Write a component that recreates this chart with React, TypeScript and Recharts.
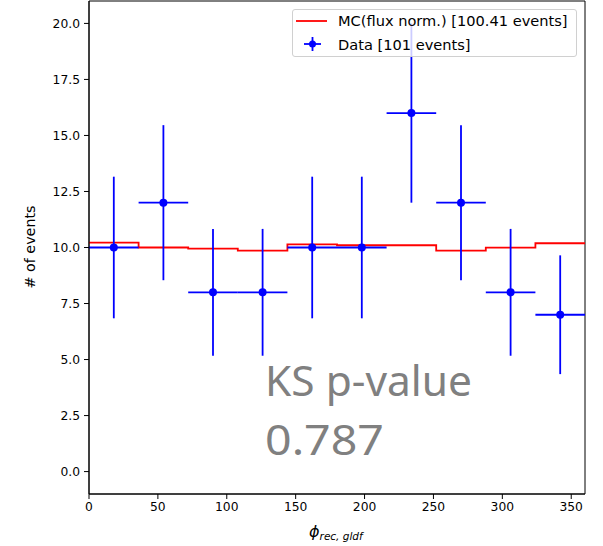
import React from 'react'
import {
  ComposedChart,
  Line,
  Scatter,
  ErrorBar,
  XAxis,
  YAxis,
  ReferenceArea,
  Legend,
  Customized,
} from 'recharts'

// data histogram (bin centres, counts, errors)
const binCenters = [18, 54, 90, 126, 162, 198, 234, 270, 306, 342]
const counts = [10, 12, 8, 8, 10, 10, 16, 12, 8, 7]
const countErr = [3.16, 3.46, 2.83, 2.83, 3.16, 3.16, 4.0, 3.46, 2.83, 2.65]
const binHalfWidth = [18, 18, 18, 18, 18, 18, 18, 18, 18, 18]

// MC (flux norm.) step histogram
const binEdges = [0, 36, 72, 108, 144, 180, 216, 252, 288, 324, 360]
const mcCounts = [10.22, 10.0, 9.95, 9.86, 10.14, 10.1, 10.1, 9.86, 9.99, 10.19]

const xTicks = [0, 50, 100, 150, 200, 250, 300, 350]
const yTicks = [0, 2.5, 5, 7.5, 10, 12.5, 15, 17.5, 20]

const pointData = binCenters.map((x, i) => ({
  x,
  y: counts[i],
  yerr: countErr[i],
  xerr: binHalfWidth[i],
}))

const mcData = binEdges.map((x, i) => ({
  x,
  mc: mcCounts[Math.min(i, mcCounts.length - 1)],
}))

const FONT = '"DejaVu Sans", sans-serif'

const LegendBox = () => (
  <div
    style={{
      width: 283,
      height: 46,
      border: '1px solid #d0d0d0',
      borderRadius: 3,
      background: 'rgba(255,255,255,0.8)',
      fontFamily: FONT,
      fontSize: 14.6,
      color: '#000',
      position: 'relative',
      whiteSpace: 'nowrap',
    }}
  >
    <svg width={40} height={46} style={{ position: 'absolute', left: 0, top: 0 }}>
      <line x1={3} y1={11} x2={34} y2={11} stroke="#ff0000" strokeWidth={1.8} />
      <line x1={11} y1={34} x2={28} y2={34} stroke="#0000ff" strokeWidth={1.8} />
      <line x1={19.5} y1={27} x2={19.5} y2={41} stroke="#0000ff" strokeWidth={1.8} />
      <circle cx={19.5} cy={34} r={3.5} fill="#0000ff" />
    </svg>
    <div style={{ position: 'absolute', left: 45, top: 2, lineHeight: '18px' }}>MC(flux norm.) [100.41 events]</div>
    <div style={{ position: 'absolute', left: 45, top: 26, lineHeight: '18px' }}>Data [101 events]</div>
  </div>
)

const Annotations = () => (
  <g>
    <text x={30} y={247} transform="rotate(-90 30 247)" textAnchor="middle"
      dominantBaseline="central" fontFamily={FONT} fontSize={14.3} fill="#000">
      # of events
    </text>
    <text x={309} y={537} fontFamily={FONT} fontSize={16} fill="#000">
      <tspan fontStyle="italic">ϕ</tspan>
      <tspan fontStyle="italic" fontSize={10.5} dy={3}>rec, gldf</tspan>
    </text>
    <text x={265} y={396} fontFamily='"Noto Sans", sans-serif' fontSize={42} fill="#808080"
      textLength={207} lengthAdjust="spacingAndGlyphs">
      KS p-value
    </text>
    <text x={265} y={455} fontFamily='"Noto Sans", sans-serif' fontSize={42} fill="#808080"
      textLength={119} lengthAdjust="spacingAndGlyphs">
      0.787
    </text>
  </g>
)

const Dot = (props: any) => <circle cx={props.cx} cy={props.cy} r={4} fill="#0000ff" />

export default function App() {
  return (
    <div style={{ position: 'absolute', left: 0, top: 0, width: 603, height: 546, background: '#fff' }}>
      <ComposedChart
        width={603}
        height={546}
        margin={{ top: 1, right: 18, bottom: 22, left: 29 }}
      >
        <XAxis
          dataKey="x"
          type="number"
          domain={[0, 360]}
          ticks={xTicks}
          allowDataOverflow
          height={30}
          tickSize={5}
          tickMargin={3}
          stroke="#000"
          tick={{ fill: '#000', fontSize: 12.3, fontFamily: FONT }}
        />
        <YAxis
          type="number"
          domain={[-1, 21]}
          ticks={yTicks}
          allowDataOverflow
          width={60}
          tickSize={5}
          tickMargin={4}
          stroke="#000"
          tickFormatter={(v: number) => v.toFixed(1)}
          tick={{ fill: '#000', fontSize: 12.3, fontFamily: FONT }}
        />
        <ReferenceArea x1={0} x2={360} y1={-1} y2={21} fill="none" stroke="#000" strokeWidth={1} />
        <Line
          data={mcData}
          dataKey="mc"
          type="stepAfter"
          stroke="#ff0000"
          strokeWidth={1.8}
          dot={false}
          activeDot={false}
          isAnimationActive={false}
          name="MC(flux norm.) [100.41 events]"
        />
        <Scatter
          data={pointData}
          dataKey="y"
          fill="#0000ff"
          shape={Dot}
          isAnimationActive={false}
          name="Data [101 events]"
        >
          <ErrorBar dataKey="yerr" direction="y" width={0} stroke="#0000ff" strokeWidth={1.8} />
          <ErrorBar dataKey="xerr" direction="x" width={0} stroke="#0000ff" strokeWidth={1.8} />
        </Scatter>
        <Legend
          layout="vertical"
          align="center"
          verticalAlign="middle"
          content={() => <LegendBox />}
          wrapperStyle={{ top: 9, left: 292, width: 285 }}
        />
        <Customized component={Annotations} />
      </ComposedChart>
    </div>
  )
}
